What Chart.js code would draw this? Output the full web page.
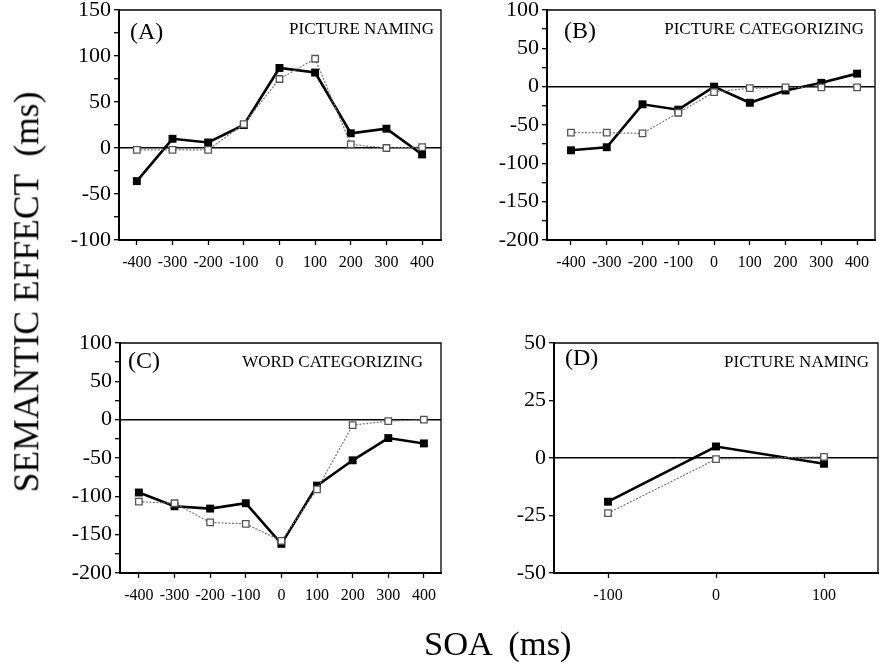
<!DOCTYPE html>
<html>
<head>
<meta charset="utf-8">
<title>Semantic effect by SOA</title>
<script src="https://cdn.jsdelivr.net/npm/chart.js@4.4.1/dist/chart.umd.min.js"></script>
<style>
    body { margin: 0; background: #fff; }
    #wrap { position: relative; width: 880px; height: 663px; overflow: hidden; }
    canvas.panel { position: absolute; left: -40px; top: -40px; }
    .title { position: absolute; font-family: 'Liberation Serif', 'Times New Roman', serif; color: #000; white-space: pre; line-height: 1; }
    #ytitle { left: 27px; top: 292px; font-size: 35.5px; transform: translate(-50%, -50%) rotate(-90deg); }
    #xtitle { left: 424px; top: 626px; font-size: 34.5px; }
</style>
</head>
<body>
<div id="wrap">
    <canvas id="chartA" class="panel" width="960" height="743"></canvas>
    <canvas id="chartB" class="panel" width="960" height="743"></canvas>
    <canvas id="chartC" class="panel" width="960" height="743"></canvas>
    <canvas id="chartD" class="panel" width="960" height="743"></canvas>
    <div class="title" id="ytitle">SEMANTIC EFFECT  (ms)</div>
    <div class="title" id="xtitle">SOA  (ms)</div>
</div>
<script>
// SOA values (ms)
var soaLong = [-400, -300, -200, -100, 0, 100, 200, 300, 400];
var soaShort = [-100, 0, 100];

// semantic effect (ms), filled squares = black line, open squares = dotted line
var namingFilled = [-36, 10, 6, 25, 87, 82, 16, 21, -7];
var namingOpen = [-2, -2, -2, 26, 75, 97, 4, 0, 1];

var picCatFilled = [-83, -79, -23, -30, 0, -21, -5, 5, 17];
var picCatOpen = [-60, -60, -61, -34, -7, -2, -1, -1, -1];

var wordCatFilled = [-95, -113, -116, -109, -162, -86, -53, -24, -31];
var wordCatOpen = [-107, -109, -134, -136, -158, -91, -7, -2, 0];

var naming2Filled = [-19, 5, -2.5];
var naming2Open = [-24, -0.5, 0.5];

var panelLetters = ['(A)', '(B)', '(C)', '(D)'];
var taskNames = ['PICTURE NAMING', 'PICTURE CATEGORIZING', 'WORD CATEGORIZING', 'PICTURE NAMING'];

Chart.defaults.font.family = "'Liberation Serif', 'Times New Roman', serif";
Chart.defaults.color = '#000';

var OFF = 40; // canvases are shifted by this much so label overflow never moves the plot

// frame (top/right sides) and the two labels inside each panel
var panelDecor = {
    id: 'panelDecor',
    afterDraw(chart, args, opts) {
        var a = chart.chartArea, ctx = chart.ctx;
        ctx.save();
        ctx.strokeStyle = '#000';
        ctx.lineWidth = 1.3;
        ctx.beginPath();
        ctx.moveTo(a.left, a.top);
        ctx.lineTo(a.right, a.top);
        ctx.lineTo(a.right, a.bottom);
        ctx.stroke();
        ctx.fillStyle = '#000';
        ctx.textBaseline = 'middle';
        ctx.textAlign = 'left';
        ctx.font = "24px 'Liberation Serif'";
        ctx.fillText(opts.letter, a.left + opts.letterDx, a.top + opts.letterDy);
        ctx.textAlign = 'right';
        ctx.font = "17px 'Liberation Serif'";
        ctx.fillText(opts.task, a.right - opts.taskDx, a.top + opts.taskDy);
        ctx.restore();
    }
};

function toPoints(xs, ys) {
    return xs.map((x, i) => ({ x: x, y: ys[i] }));
}

function makePanel(id, p) {
    var ctx = document.getElementById(id).getContext('2d');
    return new Chart(ctx, {
        type: 'line',
        data: {
            datasets: [
                {
                    label: 'open', data: toPoints(p.xs, p.open),
                    borderColor: '#777', borderWidth: 1.2, borderDash: [2, 1.5],
                    pointStyle: 'rect', pointRadius: 4.6, pointBorderWidth: 1.3,
                    pointBorderColor: '#555', pointBackgroundColor: '#fff', tension: 0
                },
                {
                    label: 'filled', data: toPoints(p.xs, p.filled),
                    borderColor: '#000', borderWidth: 2.6,
                    pointStyle: 'rect', pointRadius: 5.6, pointBorderWidth: 0,
                    pointBackgroundColor: '#000', tension: 0
                }
            ]
        },
        options: {
            responsive: false,
            animation: false,
            events: [],
            layout: {
                padding: {
                    left: p.area[0] - 60 + OFF,
                    top: p.area[1] + OFF,
                    right: 880 - p.area[2] + OFF,
                    bottom: 663 - p.area[3] - 40 + OFF
                }
            },
            plugins: {
                legend: { display: false },
                tooltip: { enabled: false },
                panelDecor: { letter: p.letter, task: p.task, letterDx: p.letterDx, letterDy: p.letterDy, taskDx: p.taskDx, taskDy: p.taskDy }
            },
            scales: {
                x: {
                    type: 'linear', min: p.xMin, max: p.xMax,
                    afterBuildTicks: s => { s.ticks = p.xs.map(v => ({ value: v })); },
                    afterFit: s => { s.height = 40; },
                    grid: { drawOnChartArea: false, tickLength: 5, tickColor: '#000', tickWidth: 1.3 },
                    border: { display: true, color: '#000', width: 2 },
                    ticks: { font: { size: 16 }, padding: 8, maxRotation: 0, autoSkip: false, callback: v => v }
                },
                y: {
                    min: p.yMin, max: p.yMax,
                    afterFit: s => { s.width = 60; },
                    grid: {
                        color: c => (c.tick && c.tick.value === 0 ? '#000' : 'rgba(0,0,0,0)'),
                        lineWidth: 1.4, tickLength: 5, tickColor: '#000', tickWidth: 1.3
                    },
                    border: { display: true, color: '#000', width: 2 },
                    ticks: {
                        stepSize: p.yStep, font: { size: 22 }, padding: 3, autoSkip: false,
                        callback: v => (v % p.yLabelStep === 0 ? v : '')
                    }
                }
            }
        },
        plugins: [panelDecor]
    });
}

makePanel('chartA', {
    xs: soaLong, filled: namingFilled, open: namingOpen,
    area: [119, 10, 441, 240], xMin: -450, xMax: 453,
    yMin: -100, yMax: 150, yStep: 25, yLabelStep: 50,
    letter: panelLetters[0], task: taskNames[0], letterDx: 11, letterDy: 23, taskDx: 7, taskDy: 20
});
makePanel('chartB', {
    xs: soaLong, filled: picCatFilled, open: picCatOpen,
    area: [547, 10, 875, 240], xMin: -467, xMax: 450,
    yMin: -200, yMax: 100, yStep: 25, yLabelStep: 50,
    letter: panelLetters[1], task: taskNames[1], letterDx: 17, letterDy: 22, taskDx: 11, taskDy: 20
});
makePanel('chartC', {
    xs: soaLong, filled: wordCatFilled, open: wordCatOpen,
    area: [120, 343, 441, 573], xMin: -453, xMax: 448,
    yMin: -200, yMax: 100, yStep: 25, yLabelStep: 50,
    letter: panelLetters[2], task: taskNames[2], letterDx: 8, letterDy: 19, taskDx: 18, taskDy: 20
});
makePanel('chartD', {
    xs: soaShort, filled: naming2Filled, open: naming2Open,
    area: [554, 343, 878, 573], xMin: -150, xMax: 150,
    yMin: -50, yMax: 50, yStep: 25, yLabelStep: 25,
    letter: panelLetters[3], task: taskNames[3], letterDx: 11, letterDy: 16, taskDx: 9, taskDy: 20
});
</script>
</body>
</html>
